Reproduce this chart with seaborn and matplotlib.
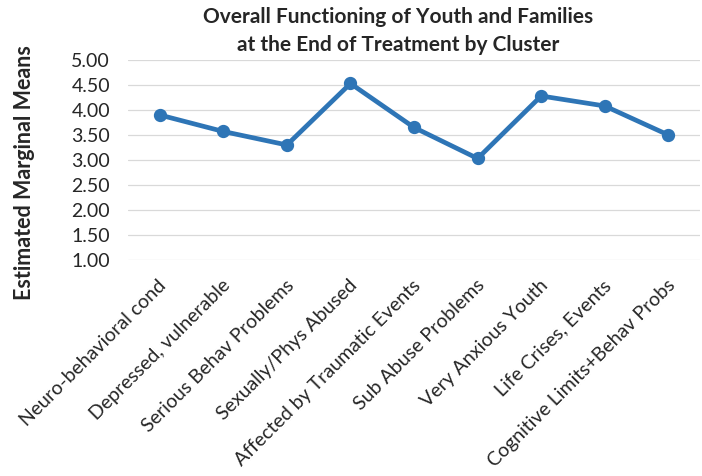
import matplotlib
matplotlib.use("Agg")
import matplotlib.pyplot as plt
import matplotlib.transforms as mtransforms
import seaborn as sns
import pandas as pd

categories = ["Neuro-behavioral cond", "Depressed, vulnerable", "Serious Behav Problems",
              "Sexually/Phys Abused", "Affected by Traumatic Events", "Sub Abuse Problems",
              "Very Anxious Youth", "Life Crises, Events", "Cognitive Limits+Behav Probs"]
values = [3.90, 3.57, 3.30, 4.53, 3.65, 3.03, 4.28, 4.08, 3.50]
yticks = [1.0, 1.5, 2.0, 2.5, 3.0, 3.5, 4.0, 4.5, 5.0]

sns.set_style("white")
plt.rcParams['font.family'] = ['Lato', 'DejaVu Sans']

df = pd.DataFrame({"cluster": categories, "mean": values})

fig = plt.figure(figsize=(7.02, 4.76), dpi=100)
ax = fig.add_axes([0.1823, 0.4538, 0.815, 0.4202])
sns.pointplot(data=df, x="cluster", y="mean", color="#2E75B6", ax=ax,
              markersize=7, linewidth=3.4)
ax.set_ylim(1, 5)
ax.set_yticks(yticks)
ax.set_yticklabels([f"{v:.2f}" for v in yticks], fontsize=14)
ax.set_xlim(-0.5, len(categories) - 0.5)
ax.grid(axis='y', color='#d9d9d9', linewidth=0.9)
ax.set_axisbelow(True)
for s in ax.spines.values():
    s.set_visible(False)
ax.tick_params(axis='y', length=0, pad=13)
ax.tick_params(axis='x', length=0, pad=12)
ax.set_xticks(range(len(categories)))
ax.set_xticklabels(categories, rotation=45, ha='right', va='top',
                   rotation_mode='anchor', fontsize=14)
offset = mtransforms.ScaledTranslation(-2 / 100, 0, fig.dpi_scale_trans)
for lab in ax.get_xticklabels():
    lab.set_transform(lab.get_transform() + offset)
ax.set_xlabel("")
ax.set_ylabel("")
fig.text(25 / 702, 1 - 173 / 476, "Estimated Marginal Means", rotation=90,
         ha='center', va='center', fontsize=15.5, fontweight='bold')
fig.text(398 / 702, 1 - 17 / 476, "Overall Functioning of Youth and Families",
         ha='center', va='center', fontsize=15, fontweight='bold')
fig.text(398 / 702, 1 - 45 / 476, "at the End of Treatment by Cluster",
         ha='center', va='center', fontsize=15, fontweight='bold')
fig.savefig("out.png", dpi=100)
